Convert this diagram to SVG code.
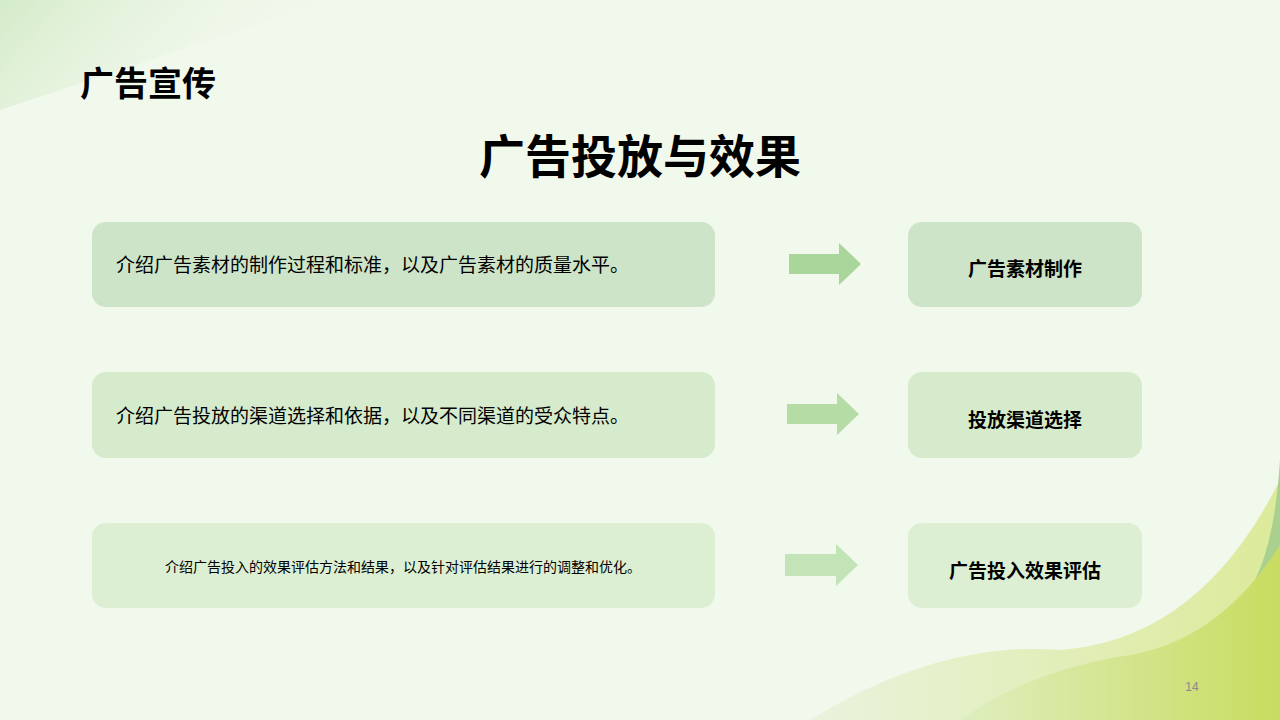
<svg xmlns="http://www.w3.org/2000/svg" width="1280" height="720" viewBox="0 0 1280 720">
<defs>
<style>
text{font-family:"Noto Sans CJK SC","Liberation Sans",sans-serif;fill:#000}
.b{font-weight:bold}
</style>
<linearGradient id="tl" x1="0" y1="0" x2="1" y2="0.3"><stop offset="0" stop-color="#d4ebc8"/><stop offset="1" stop-color="#f1f8ec" stop-opacity="0"/></linearGradient>
<linearGradient id="br1" x1="0" y1="0" x2="1" y2="0"><stop offset="0" stop-color="#e9f3dd"/><stop offset="1" stop-color="#dcea9a"/></linearGradient>
<linearGradient id="br2" x1="0" y1="0" x2="1" y2="0"><stop offset="0" stop-color="#dfeebf"/><stop offset="1" stop-color="#c8dc60"/></linearGradient>
</defs>
<rect width="1280" height="720" fill="#f1f8ec"/>
<path d="M0 0 H330 Q150 60 0 110 Z" fill="url(#tl)"/>
<path d="M810 720 Q940 640 1060 650 Q1200 640 1280 480 V720 Z" fill="url(#br1)"/>
<path d="M1255 580 Q1275 540 1280 460 V560 Z" fill="#a9d08e"/>
<path d="M960 720 Q1030 670 1130 655 Q1220 640 1280 545 V720 Z" fill="url(#br2)"/>
<text x="80" y="96" font-size="34" class="b">广告宣传</text>
<text x="640" y="173" font-size="46" class="b" text-anchor="middle">广告投放与效果</text>
<g id="n1"><rect x="92" y="222" width="623" height="85" rx="14" fill="#cde4c8"/><text x="116" y="272" font-size="19">介绍广告素材的制作过程和标准，以及广告素材的质量水平。</text></g>
<g id="n2"><rect x="92" y="372" width="623" height="86" rx="14" fill="#d5ebcc"/><text x="116" y="423" font-size="19">介绍广告投放的渠道选择和依据，以及不同渠道的受众特点。</text></g>
<g id="n3"><rect x="92" y="523" width="623" height="85" rx="14" fill="#dcefd3"/><text x="403" y="572" font-size="14" text-anchor="middle">介绍广告投入的效果评估方法和结果，以及针对评估结果进行的调整和优化。</text></g>
<g id="n4"><rect x="908" y="222" width="234" height="85" rx="14" fill="#cde4c8"/><text x="1025" y="276" font-size="19" class="b" text-anchor="middle">广告素材制作</text></g>
<g id="n5"><rect x="908" y="372" width="234" height="86" rx="14" fill="#d5ebcc"/><text x="1025" y="427" font-size="19" class="b" text-anchor="middle">投放渠道选择</text></g>
<g id="n6"><rect x="908" y="523" width="234" height="85" rx="14" fill="#dcefd3"/><text x="1025" y="578" font-size="19" class="b" text-anchor="middle">广告投入效果评估</text></g>
<g id="connectors">
<path d="M789 254 H839 V243 L861 264 L839 285 V274 H789 Z" fill="#a9d69a"/>
<path d="M787 404 H837 V393 L859 414 L837 435 V424 H787 Z" fill="#b4dca4"/>
<path d="M785 554 H836 V544 L858 565 L836 586 V576 H785 Z" fill="#c3e4b6"/>
</g>
<text x="1192" y="691" font-size="12" fill="#8a8a8a" style="fill:#8a8a8a;font-family:'Liberation Sans',sans-serif" text-anchor="middle">14</text>
</svg>
